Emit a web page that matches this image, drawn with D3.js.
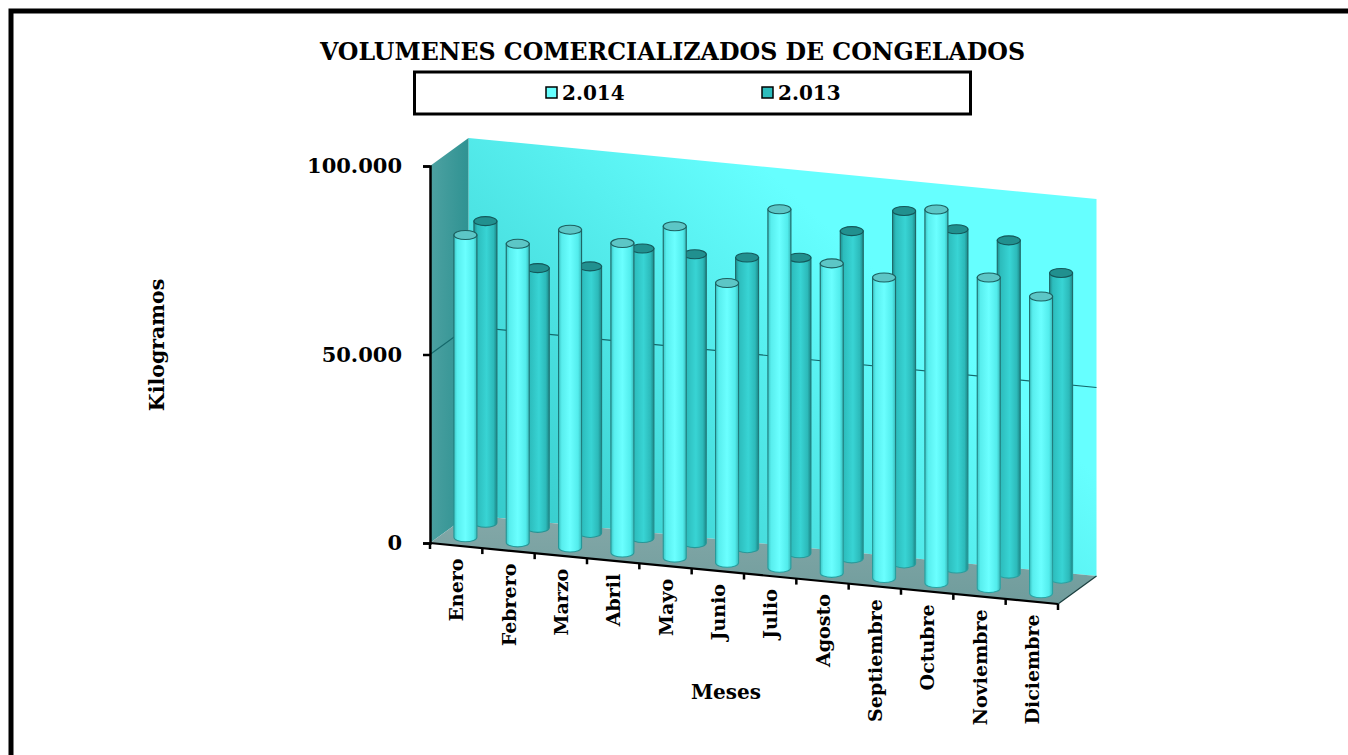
<!DOCTYPE html>
<html>
<head>
<meta charset="utf-8">
<script src="https://cdn.jsdelivr.net/npm/d3@7"></script>
<style>
  html, body { margin: 0; padding: 0; background: #fff; overflow: hidden; }
  text { font-family: "DejaVu Serif", serif; font-weight: bold; fill: #000; }
</style>
</head>
<body>
<svg id="chart" width="1348" height="755"></svg>
<script>
const months = ["Enero", "Febrero", "Marzo", "Abril", "Mayo", "Junio", "Julio", "Agosto", "Septiembre", "Octubre", "Noviembre", "Diciembre"];
const values2014 = [80200, 79200, 84300, 82100, 87900, 74200, 95100, 82100, 79700, 99100, 82400, 78700];
const values2013 = [80000, 68900, 70700, 76800, 76600, 77100, 78400, 86800, 93500, 90000, 88400, 81100];
const yTicks = [0, 50000, 100000];

const width = 1348;
const height = 755;
const svg = d3.select("#chart");
const defs = svg.append("defs");

// escalas: la profundidad y la pendiente del piso hacen la perspectiva
const x = d3.scaleBand().domain(months).range([430, 1058]);
const y = d3.scaleLinear().domain([0, 100000]).range([543, 166]);
const slope = d3.scaleLinear().domain([430, 1058]).range([0, 61]);
const depthX = d3.scaleLinear().domain([0, 1]).range([0, 38.5]);
const depthY = d3.scaleLinear().domain([0, 1]).range([0, -28]);

const project = (px, value, depth) => [
  px + depthX(depth),
  y(value) + slope(px) + depthY(depth),
];
const xMin = x.range()[0];
const xMax = x.range()[1];
const poly = (pts) => "M" + pts.map((p) => p.join(",")).join("L") + "Z";

const gradient = (id, attrs, stops) => {
  const g = defs.append("linearGradient").attr("id", id);
  Object.entries(attrs).forEach(([k, v]) => g.attr(k, v));
  stops.forEach(([offset, color]) => g.append("stop").attr("offset", offset).attr("stop-color", color));
};

gradient("backWall", { x1: 0, y1: 1, x2: 1, y2: 0.25 }, [[0, "#2fc4c4"], [0.75, "#66ffff"], [1, "#66ffff"]]);
gradient("leftWall", { x1: 0, y1: 0, x2: 1, y2: 0.15 }, [[0, "#4ea2a2"], [1, "#2f9292"]]);
gradient("floor", { x1: 0, y1: 0, x2: 0, y2: 1 }, [[0, "#84a8a8"], [1, "#6f9c9c"]]);
gradient("bodyLight", { x1: 0, y1: 0, x2: 1, y2: 0 }, [[0, "#3cc4c4"], [0.14, "#58eeee"], [0.5, "#6bffff"], [0.85, "#52ecec"], [1, "#38b8b8"]]);
gradient("bodyDark", { x1: 0, y1: 0, x2: 1, y2: 0 }, [[0, "#1f8e8e"], [0.14, "#2cbcbc"], [0.55, "#38d4d4"], [0.85, "#2cbaba"], [1, "#1c8686"]]);
gradient("edge", { gradientUnits: "userSpaceOnUse", x1: 0, y1: 200, x2: 0, y2: 600 }, [[0, "#1d5f5f"], [0.6, "#1f7c7c"], [1, "#2aa5a5"]]);

// paredes y piso
svg.append("path")
  .attr("d", poly([project(xMin, 0, 1), project(xMax, 0, 1), project(xMax, 100000, 1), project(xMin, 100000, 1)]))
  .attr("fill", "url(#backWall)");
svg.append("path")
  .attr("d", poly([project(xMin, 0, 0), project(xMin, 0, 1), project(xMin, 100000, 1), project(xMin, 100000, 0)]))
  .attr("fill", "url(#leftWall)");
svg.append("path")
  .attr("d", poly([project(xMin, 0, 0), project(xMax, 0, 0), project(xMax, 0, 1), project(xMin, 0, 1)]))
  .attr("fill", "url(#floor)");

// linea de 50.000
svg.append("path")
  .attr("d", d3.line()([project(xMin, 50000, 0), project(xMin, 50000, 1), project(xMax, 50000, 1)]))
  .attr("fill", "none")
  .attr("stroke", "#14686b")
  .attr("stroke-width", 1.2);

// cilindros
const rx = 11.5;
const ry = 4.5;
const barLift = 1.5; // la base queda un poco dentro del piso
const drawSeries = (values, depth, bodyFill, capFill, capStroke) => {
  const g = svg.append("g");
  const rows = months.map((m, i) => {
    const cx = x(m) + x.bandwidth() / 2;
    return { base: project(cx, 0, depth), top: project(cx, values[i], depth) };
  });
  g.selectAll("path.body")
    .data(rows)
    .join("path")
    .attr("class", "body")
    .attr("d", (d) => {
      const [cx, by] = d.base;
      const ty = d.top[1];
      return `M${cx - rx},${ty - barLift}L${cx - rx},${by - barLift}A${rx},${ry} 0 0 0 ${cx + rx},${by - barLift}L${cx + rx},${ty - barLift}Z`;
    })
    .attr("fill", bodyFill)
    .attr("stroke", "url(#edge)")
    .attr("stroke-width", 1.1);
  g.selectAll("ellipse.cap")
    .data(rows)
    .join("ellipse")
    .attr("class", "cap")
    .attr("cx", (d) => d.top[0])
    .attr("cy", (d) => d.top[1] - barLift)
    .attr("rx", rx)
    .attr("ry", ry)
    .attr("fill", capFill)
    .attr("stroke", capStroke)
    .attr("stroke-width", 1.1);
};
drawSeries(values2013, 0.76, "url(#bodyDark)", "#21908f", "#14585a");
drawSeries(values2014, 0.24, "url(#bodyLight)", "#5cc6c6", "#1d5f5f");

// eje de valores
const yAxis = svg.append("g")
  .attr("transform", `translate(${xMin},0)`)
  .call(d3.axisLeft(y).tickValues(yTicks).tickFormat((d) => d3.format(",")(d).replace(",", ".")).tickSize(7).tickPadding(21));
yAxis.select(".domain").attr("stroke", "#000").attr("stroke-width", 2.5);
yAxis.selectAll(".tick line").attr("stroke", "#000").attr("stroke-width", 2.5);
yAxis.selectAll(".tick text").style("font-size", "21px").style("font-family", '"DejaVu Serif", serif').attr("dy", "0.32em");

// eje de meses
svg.append("path")
  .attr("d", d3.line()([project(xMin, 0, 0), project(xMax, 0, 0)]))
  .attr("stroke", "#000")
  .attr("stroke-width", 2.2);
svg.append("path")
  .attr("d", d3.line()([project(xMax, 0, 0), project(xMax, 0, 1)]))
  .attr("stroke", "#1b3f3f")
  .attr("stroke-width", 1.2);
const tickEdges = months.map((m) => x(m)).concat([xMax]);
svg.append("g").selectAll("line")
  .data(tickEdges)
  .join("line")
  .attr("x1", (d) => d)
  .attr("x2", (d) => d)
  .attr("y1", (d) => project(d, 0, 0)[1])
  .attr("y2", (d) => project(d, 0, 0)[1] + 6)
  .attr("stroke", "#000")
  .attr("stroke-width", 2.5);

svg.append("g").selectAll("text")
  .data(months)
  .join("text")
  .attr("text-anchor", "end")
  .attr("font-size", 19)
  .attr("transform", (m) => {
    const cx = x(m) + x.bandwidth() / 2;
    return `translate(${cx + 7},${project(cx, 0, 0)[1] + 13}) rotate(-90)`;
  })
  .text((m) => m);

// titulos
svg.append("text").attr("x", 672.5).attr("y", 60).attr("text-anchor", "middle").attr("font-size", 23.7)
  .text("VOLUMENES COMERCIALIZADOS DE CONGELADOS");
svg.append("text").attr("x", 726).attr("y", 699).attr("text-anchor", "middle").attr("font-size", 20).text("Meses");
svg.append("text").attr("transform", "translate(164,345) rotate(-90)").attr("text-anchor", "middle").attr("font-size", 20.5).text("Kilogramos");

// leyenda
svg.append("rect").attr("x", 414.5).attr("y", 72).attr("width", 556).attr("height", 42)
  .attr("fill", "#fff").attr("stroke", "#000").attr("stroke-width", 3);
const legend = svg.append("g").selectAll("g")
  .data([["2.014", "#66ffff", 546], ["2.013", "#2cbcbc", 762]])
  .join("g")
  .attr("transform", (d) => `translate(${d[2]},87)`);
legend.append("rect").attr("width", 11).attr("height", 11).attr("fill", (d) => d[1]).attr("stroke", "#000").attr("stroke-width", 1.5);
legend.append("text").attr("x", 16).attr("y", 13).attr("font-size", 20).text((d) => d[0]);

// marco exterior
svg.append("path").attr("d", `M${width},11H11V${height}`).attr("fill", "none").attr("stroke", "#000").attr("stroke-width", 5);
</script>
</body>
</html>
